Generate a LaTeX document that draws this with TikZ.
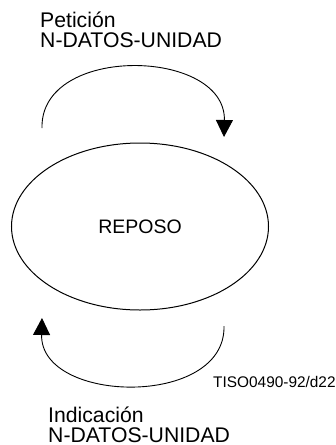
\documentclass[tikz,border=0pt]{standalone}
\usepackage{fontspec}
\setmainfont{Liberation Sans}
\usetikzlibrary{arrows.meta,shapes.geometric}
\begin{document}
\begin{tikzpicture}[x=1pt,y=-1pt,
  lbl/.style={anchor=base west,inner sep=0pt,font=\fontsize{21.2}{21}\selectfont},
  small/.style={anchor=base west,inner sep=0pt,font=\fontsize{15.4}{16}\selectfont},
  loop/.style={line width=0.9pt,-{Triangle[length=17pt,width=17pt]}},
  state/.style={draw,ellipse,line width=1pt,minimum width=257pt,minimum height=167pt,inner sep=0pt,font=\fontsize{19.5}{20}\selectfont}]
\useasboundingbox (0,0) rectangle (336,445);
\node[state] (rep) at (140,226.5) {REPOSO};
\node[lbl] (p1) at (40,27) {Petición};
\node[lbl] (p2) at (40,47) {N-DATOS-UNIDAD};
\node[lbl] (i1) at (48,422) {Indicación};
\node[lbl] (i2) at (48,442) {N-DATOS-UNIDAD};
\node[small] (tiso) at (213,387) {TISO0490-92/d22};
\coordinate (ts) at (42,128);
\coordinate (te) at (224,137);
\coordinate (bs) at (224,326);
\coordinate (be) at (42,318);
\draw[loop] (ts) .. controls (40,44) and (226,48) .. (te);
\draw[loop] (bs) .. controls (226,408) and (40,404) .. (be);
\end{tikzpicture}
\end{document}
